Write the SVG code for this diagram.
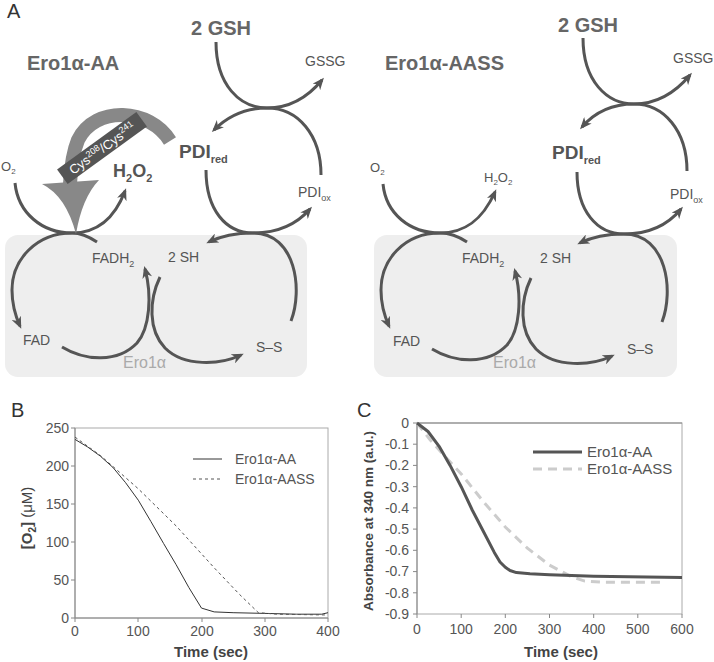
<svg xmlns="http://www.w3.org/2000/svg" width="714" height="662" viewBox="0 0 714 662">
<defs>
<style>
text{font-family:"Liberation Sans",Arial,sans-serif;fill:#555}
.t{font-weight:bold;font-size:20px;fill:#666}
.lb{font-size:14px}
.pnl{font-size:20px;fill:#333}
.arc{fill:none;stroke:#555;stroke-width:3;marker-end:url(#ah)}
.box{fill:#eeeeee}
.tick{font-size:14px;fill:#666}
.axt{font-size:15px;font-weight:bold;fill:#444}
.frame{fill:none;stroke:#aaa;stroke-width:1}
.tk{stroke:#888;stroke-width:1}
</style>
<marker id="ah" viewBox="0 0 12 10" refX="9" refY="5" markerWidth="12" markerHeight="10" markerUnits="userSpaceOnUse" orient="auto"><path d="M0,0 L12,5 L0,10 L3.5,5 Z" fill="#555"/></marker>
</defs>
<rect width="714" height="662" fill="#fff"/>

<!-- panel labels -->
<text class="pnl" x="7" y="18">A</text>
<text class="pnl" x="11" y="417">B</text>
<text class="pnl" x="357" y="417">C</text>

<!-- grey Ero1 boxes -->
<rect id="box-left" class="box" x="5" y="235" width="302" height="142" rx="13"/>
<rect id="box-right" class="box" x="374" y="235" width="303" height="142" rx="13"/>

<!-- connectors -->
<g id="connectors">
<path class="arc" d="M216,42 C216,85 240,108 267,108 C290,108 308,97 322,80"/>
<path class="arc" d="M321,175 C321,135 298,108 267,108 C245,108 228,116 214,130"/>
<path class="arc" d="M206,170 C206,210 226,233 253,233 C276,233 296,225 310,209"/>
<path class="arc" d="M291,321 C303,290 296,233 253,233 C236,233 221,236 209,242"/>
<path class="arc" d="M15,183 C18,213 42,233 72,233 C96,233 114,220 125,191"/>
<path class="arc" d="M97,242 C88,236 80,233 72,233 C36,233 12,260 12,290 C12,304 15,315 20,326"/>
<path class="arc" d="M62,347 C85,361 118,363 137,343 C150,328 152,295 145,269"/>
<path class="arc" d="M160,277 C149,300 148,330 165,348 C184,367 220,365 241,355"/>

<path class="arc" d="M583,38 C583,81 607,104 634,104 C657,104 675,93 690,75"/>
<path class="arc" d="M687,171 C687,131 664,104 634,104 C612,104 595,112 582,127"/>
<path class="arc" d="M577,172 C577,211 597,234 624,234 C647,234 667,226 681,209"/>
<path class="arc" d="M662,322 C674,291 667,234 624,234 C607,234 592,237 580,243"/>
<path class="arc" d="M383,184 C386,214 410,233 440,233 C464,233 482,221 495,192"/>
<path class="arc" d="M467,242 C458,236 450,233 440,233 C404,233 381,260 381,290 C381,304 384,315 389,326"/>
<path class="arc" d="M432,349 C455,363 488,365 507,345 C520,330 522,297 515,271"/>
<path class="arc" d="M531,278 C520,301 519,331 536,349 C555,368 591,366 612,356"/>

<!-- big grey Cys arrow -->
<g id="cys-arrow">
<path d="M170,141 C150,108 95,105 78,140 C73,152 71,165 70,184" fill="none" stroke="#888" stroke-width="14"/>
<path d="M42,184 Q66,196 76,234 Q82,198 99,180 Z" fill="#888"/>
<g transform="translate(102,148) rotate(-36)">
<rect x="-49" y="-9" width="98" height="18" fill="#555"/>
<text x="0" y="5" text-anchor="middle" style="fill:#fff;font-size:13px">Cys<tspan dy="-5" font-size="9">208</tspan><tspan dy="5">/Cys</tspan><tspan dy="-5" font-size="9">241</tspan></text>
</g>
</g>
</g>

<!-- left panel nodes -->
<g id="title-left"><text class="t" x="27" y="70">Ero1α-AA</text></g>
<g id="gsh-left"><text class="t" x="191" y="35">2 GSH</text></g>
<g id="gssg-left"><text class="lb" x="305" y="66">GSSG</text></g>
<g id="pdired-left"><text x="179" y="158" style="font-weight:bold;font-size:19px">PDI<tspan dy="5" font-size="11">red</tspan></text></g>
<g id="pdiox-left"><text class="lb" x="298" y="197">PDI<tspan dy="4" font-size="9">ox</tspan></text></g>
<g id="o2-left"><text x="1" y="171" style="font-size:13px">O<tspan dy="3" font-size="8">2</tspan></text></g>
<g id="h2o2-left"><text x="113" y="177" style="font-weight:bold;font-size:18px">H<tspan dy="5" font-size="11">2</tspan><tspan dy="-5">O</tspan><tspan dy="5" font-size="11">2</tspan></text></g>
<g id="fadh2-left"><text class="lb" x="92" y="263">FADH<tspan dy="4" font-size="9">2</tspan></text></g>
<g id="sh-left"><text class="lb" x="168" y="262">2 SH</text></g>
<g id="fad-left"><text class="lb" x="23" y="345">FAD</text></g>
<g id="ero-left"><text x="123" y="368" style="font-size:16px;fill:#aaa">Ero1α</text></g>
<g id="ss-left"><text class="lb" x="256" y="352">S–S</text></g>

<!-- right panel nodes -->
<g id="title-right"><text class="t" x="385" y="70">Ero1α-AASS</text></g>
<g id="gsh-right"><text class="t" x="558" y="32">2 GSH</text></g>
<g id="gssg-right"><text class="lb" x="673" y="63">GSSG</text></g>
<g id="pdired-right"><text x="552" y="159" style="font-weight:bold;font-size:19px">PDI<tspan dy="5" font-size="11">red</tspan></text></g>
<g id="pdiox-right"><text class="lb" x="670" y="199">PDI<tspan dy="4" font-size="9">ox</tspan></text></g>
<g id="o2-right"><text x="370" y="172" style="font-size:13px">O<tspan dy="3" font-size="8">2</tspan></text></g>
<g id="h2o2-right"><text x="484" y="182" style="font-size:13px">H<tspan dy="3" font-size="8">2</tspan><tspan dy="-3">O</tspan><tspan dy="3" font-size="8">2</tspan></text></g>
<g id="fadh2-right"><text class="lb" x="462" y="263">FADH<tspan dy="4" font-size="9">2</tspan></text></g>
<g id="sh-right"><text class="lb" x="540" y="263">2 SH</text></g>
<g id="fad-right"><text class="lb" x="393" y="346">FAD</text></g>
<g id="ero-right"><text x="493" y="368" style="font-size:16px;fill:#aaa">Ero1α</text></g>
<g id="ss-right"><text class="lb" x="627" y="354">S–S</text></g>

<!-- chart B -->
<g id="chart-b">
<rect class="frame" x="75" y="428" width="253" height="190"/>
<line x1="75" y1="428" x2="75" y2="618" stroke="#888"/>
<line x1="75" y1="618" x2="328" y2="618" stroke="#888"/>
<g class="tk">
<line x1="71" y1="428" x2="75" y2="428"/><line x1="71" y1="466" x2="75" y2="466"/><line x1="71" y1="504" x2="75" y2="504"/><line x1="71" y1="542" x2="75" y2="542"/><line x1="71" y1="580" x2="75" y2="580"/><line x1="71" y1="618" x2="75" y2="618"/>
<line x1="75" y1="618" x2="75" y2="622"/><line x1="138" y1="618" x2="138" y2="622"/><line x1="202" y1="618" x2="202" y2="622"/><line x1="265" y1="618" x2="265" y2="622"/><line x1="328" y1="618" x2="328" y2="622"/>
</g>
<g class="tick" text-anchor="end">
<text x="69" y="433">250</text><text x="69" y="471">200</text><text x="69" y="509">150</text><text x="69" y="547">100</text><text x="69" y="585">50</text><text x="69" y="623">0</text>
</g>
<g class="tick" text-anchor="middle">
<text x="75" y="636">0</text><text x="138" y="636">100</text><text x="202" y="636">200</text><text x="265" y="636">300</text><text x="328" y="636">400</text>
</g>
<text class="axt" x="211" y="657" text-anchor="middle">Time (sec)</text>
<text transform="translate(32,518) rotate(-90)" text-anchor="middle" style="font-size:15px;fill:#444"><tspan font-weight="bold">[O</tspan><tspan font-weight="bold" dy="4" font-size="10">2</tspan><tspan font-weight="bold" dy="-4">]</tspan> (μM)</text>
<polyline fill="none" stroke="#333" stroke-width="1" points="75,439.4 87.7,447 100.3,456.1 113,467.5 125.6,482.7 138.3,500.2 150.9,521.5 163.6,543.5 176.2,564.8 188.9,587.6 201.5,608.1 214.2,611.9 233.1,612.7 264.8,613.4 296.4,614.2 321.7,614.2 328,612.7"/>
<polyline fill="none" stroke="#555" stroke-width="1" stroke-dasharray="3,3" points="75,437.1 100.3,455.4 138.3,488.8 176.2,526 214.2,567.8 239.5,594.4 258.4,612.7 277.4,614.2 328,615"/>
<line x1="193" y1="459" x2="222" y2="459" stroke="#333" stroke-width="1"/>
<line x1="193" y1="479" x2="222" y2="479" stroke="#555" stroke-width="1" stroke-dasharray="3,3"/>
<text class="lb" x="235" y="464">Ero1α-AA</text>
<text class="lb" x="235" y="484">Ero1α-AASS</text>
</g>

<!-- chart C -->
<g id="chart-c">
<rect class="frame" x="417" y="423" width="265" height="191"/>
<line x1="417" y1="423" x2="682" y2="423" stroke="#888"/>
<line x1="417" y1="423" x2="417" y2="614" stroke="#888"/>
<g class="tk">
<line x1="413" y1="423" x2="417" y2="423"/><line x1="413" y1="444.2" x2="417" y2="444.2"/><line x1="413" y1="465.4" x2="417" y2="465.4"/><line x1="413" y1="486.7" x2="417" y2="486.7"/><line x1="413" y1="507.9" x2="417" y2="507.9"/><line x1="413" y1="529.1" x2="417" y2="529.1"/><line x1="413" y1="550.3" x2="417" y2="550.3"/><line x1="413" y1="571.6" x2="417" y2="571.6"/><line x1="413" y1="592.8" x2="417" y2="592.8"/><line x1="413" y1="614" x2="417" y2="614"/>
<line x1="417" y1="614" x2="417" y2="618"/><line x1="461.2" y1="614" x2="461.2" y2="618"/><line x1="505.3" y1="614" x2="505.3" y2="618"/><line x1="549.5" y1="614" x2="549.5" y2="618"/><line x1="593.7" y1="614" x2="593.7" y2="618"/><line x1="637.8" y1="614" x2="637.8" y2="618"/><line x1="682" y1="614" x2="682" y2="618"/>
</g>
<g class="tick" text-anchor="end">
<text x="409" y="428">0</text><text x="409" y="449">-0.1</text><text x="409" y="470">-0.2</text><text x="409" y="492">-0.3</text><text x="409" y="513">-0.4</text><text x="409" y="534">-0.5</text><text x="409" y="555">-0.6</text><text x="409" y="576">-0.7</text><text x="409" y="598">-0.8</text><text x="409" y="619">-0.9</text>
</g>
<g class="tick" text-anchor="middle">
<text x="417" y="634">0</text><text x="461.2" y="634">100</text><text x="505.3" y="634">200</text><text x="549.5" y="634">300</text><text x="593.7" y="634">400</text><text x="637.8" y="634">500</text><text x="682" y="634">600</text>
</g>
<text class="axt" x="561" y="657" text-anchor="middle">Time (sec)</text>
<text transform="translate(373,521) rotate(-90)" text-anchor="middle" style="font-size:13.5px;font-weight:bold;fill:#444">Absorbance at 340 nm (a.u.)</text>
<polyline fill="none" stroke="#ccc" stroke-width="3" stroke-dasharray="9,6" points="417,423 430.3,440 443.5,454.8 461.2,473.9 483.3,501.5 505.3,527 527.4,548.2 549.5,565.2 571.6,576.8 584.8,581.1 602.5,582.2 664.4,582.2"/>
<polyline fill="none" stroke="#555" stroke-width="3" stroke-linejoin="round" points="417,423 428,431.5 439.1,446.3 450.1,465.4 461.2,486.7 472.2,510 483.3,531.2 494.3,552.4 500,562 505.3,567.3 510,570.5 516.4,572.6 530,573.8 549.5,574.7 593.7,576.2 682,577.5"/>
<line x1="533" y1="452" x2="582" y2="452" stroke="#555" stroke-width="3"/>
<line x1="533" y1="469" x2="582" y2="469" stroke="#ccc" stroke-width="3" stroke-dasharray="9,6"/>
<text x="587" y="457" style="font-size:15px">Ero1α-AA</text>
<text x="587" y="474" style="font-size:15px">Ero1α-AASS</text>
</g>
</svg>
